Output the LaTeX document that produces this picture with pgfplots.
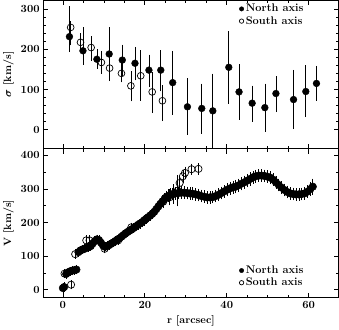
\documentclass[border=0pt]{standalone}
\usepackage{pgfplots}
\pgfplotsset{compat=1.18}
\usepackage{pgfplotstable}

% top panel: x y err+ err-
\pgfplotstableread{
x y ep em
1.6 231 68 31
4.9 196 51 27
8.3 175 17 16
11.3 188 59 58
14.5 173 31 32
17.6 165 33 35
21.0 148 31 35
23.9 148 42 45
26.8 117 71 72
30.4 57 63 62
33.9 53 54 55
36.6 47 85 87
40.5 155 82 83
43.0 94 61 62
46.2 66 36 39
49.3 55 52 53
52.0 90 35 39
56.3 75 66 66
59.3 95 58 56
61.9 115 36 36
}\sigN
\pgfplotstableread{
x y ep em
1.9 254 8 37
4.3 217 15 15
6.9 204 20 25
9.4 167 21 21
11.4 153 25 25
14.3 140 18 15
16.6 109 29 31
19.0 134 56 54
21.8 94 42 45
24.3 72 31 43
}\sigS
% bottom panel: x v err
\pgfplotstableread{
x y e
0.0 5 5
0.3 8 5
0.8 47 5
1.3 52 5
1.8 55 5
2.3 57 5
2.8 58 5
3.3 60 5
3.8 112 5
4.3 117 5
4.8 120 5
5.3 122 5
5.8 125 5
6.3 127 5
6.8 130 5
7.3 138 5
7.8 145 5
8.3 150 5
8.8 148 5
9.3 140 5
9.8 132 5
10.3 128 5
10.8 130 5
11.3 133 5
11.8 137 5
12.3 141 5
12.8 145 5
13.3 149 5
13.8 153 5
14.3 158 5
14.8 163 5
15.3 168 5
15.8 172 5
16.3 176 5
16.8 180 5
17.3 184 5
17.8 188 5
18.3 193 5
18.8 197 6
19.3 201 6
19.8 206 6
20.3 211 6
20.8 216 6
21.3 221 7
21.8 226 7
22.3 232 7
22.8 240 8
23.3 248 8
23.8 256 8
24.3 263 9
24.8 270 9
25.3 276 10
25.8 280 10
26.3 283 10
26.8 285 10
27.5 287 10
28.2 288 10
28.9 289 10
29.6 289 10
30.3 288 10
31.0 287 10
31.7 286 10
32.4 284 10
33.1 282 10
33.8 279 10
34.5 277 10
35.2 275 10
35.9 275 10
36.6 276 10
37.3 279 10
38.0 283 10
38.7 288 10
39.4 293 10
40.1 298 10
40.8 302 11
41.5 305 11
42.2 307 11
42.9 311 11
43.6 316 11
44.3 320 11
45.0 325 11
45.7 330 11
46.4 335 10
47.1 338 10
47.8 340 10
48.5 340 10
49.2 339 10
49.9 337 10
50.6 334 10
51.3 328 10
52.0 320 10
52.7 312 10
53.4 304 10
54.1 297 10
54.8 291 10
55.5 287 10
56.2 285 10
56.9 284 10
57.6 284 10
58.3 285 10
59.0 287 10
59.7 292 10
60.4 300 12
61.0 307 15
}\velN
\pgfplotstableread{
x y e
0.4 48 5
2.0 15 5
3.0 106 5
5.7 147 6
6.5 147 6
10.2 122 5
13.5 147 5
16.7 186 5
20.0 208 6
24.5 262 10
26.0 275 15
27.0 285 20
28.0 295 38
28.5 318 12
29.3 338 10
29.8 348 10
31.4 359 8
33.1 360 8
}\velS

\pgfplotsset{
  every axis/.append style={
    scale only axis, width=294.7pt,
    xmin=-4.8, xmax=67.3,
    xtick={0,20,40,60}, minor x tick num=3,
    tick align=inside, tick pos=both,
    major tick length=5pt, minor tick length=3pt,
    every tick/.style={black, line width=0.7pt},
    axis line style={line width=0.8pt},
    tick label style={font=\fontsize{10.5}{12}\selectfont\bfseries\boldmath},
    label style={font=\fontsize{10.5}{12}\selectfont\bfseries\boldmath},
    legend style={draw=none, fill=none, font=\fontsize{11}{12}\selectfont\bfseries,
      row sep=-1pt, inner sep=1pt},
    legend cell align=left,
    legend image code/.code={\path[#1, mark size=2.2pt] plot coordinates {(0.12cm,0cm)};},
  },
  errstyle/.style={error bars/.cd, y dir=both, y explicit,
    error bar style={line width=0.7pt, black},
    error mark options={mark size=3pt, line width=0.7pt, black}},
}

\begin{document}
\begin{tikzpicture}
\begin{axis}[name=top, height=148pt,
  ymin=-47, ymax=321, ytick={0,100,200,300}, minor y tick num=4,
  xticklabels={},
  ylabel={$\sigma$ [km/s]},
  legend style={at={(0.66,0.995)}, anchor=north west},
]
\addplot[only marks, mark=*, mark size=3.4pt, black, errstyle]
  table[x=x, y=y, y error plus=ep, y error minus=em] {\sigN};
\addlegendentry{North axis}
\addplot[only marks, mark=o, mark size=3.4pt, black, line width=0.7pt, mark options={fill=white}, errstyle]
  table[x=x, y=y, y error plus=ep, y error minus=em] {\sigS};
\addlegendentry{South axis}
\end{axis}
\begin{axis}[at={(top.south west)}, anchor=north west, height=148.7pt,
  ymin=-24, ymax=420, ytick={0,100,200,300,400}, minor y tick num=1,
  xlabel={r [arcsec]},
  ylabel={V [km/s]},
  legend style={at={(0.66,0.235)}, anchor=north west},
]
\addplot[only marks, mark=*, mark size=3.8pt, black, errstyle]
  table[x=x, y=y, y error=e] {\velN};
\addlegendentry{North axis}
\addplot[only marks, mark=o, mark size=3.6pt, black, line width=0.7pt, mark options={fill=white}, errstyle]
  table[x=x, y=y, y error=e] {\velS};
\addlegendentry{South axis}
\end{axis}
\end{tikzpicture}
\end{document}
